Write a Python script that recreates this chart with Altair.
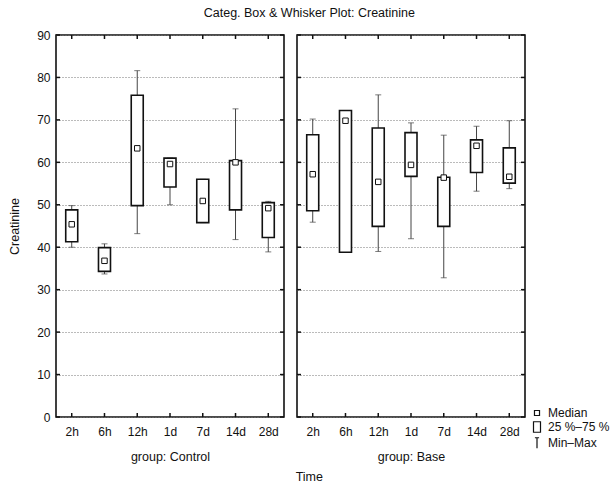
import altair as alt
import pandas as pd

times = ["2h", "6h", "12h", "1d", "7d", "14d", "28d"]

ctrl_min = [40.0, 33.7, 43.2, 50.0, 45.8, 41.8, 38.9]
ctrl_q1 = [41.3, 34.3, 49.8, 54.2, 45.8, 48.8, 42.3]
ctrl_med = [45.4, 36.8, 63.3, 59.6, 50.9, 60.0, 49.2]
ctrl_q3 = [48.8, 39.9, 75.8, 61.0, 56.0, 60.4, 50.5]
ctrl_max = [49.8, 40.8, 81.6, 61.0, 56.0, 72.6, 50.8]

base_min = [45.9, 38.8, 39.0, 42.0, 32.8, 53.2, 53.8]
base_q1 = [48.6, 38.8, 44.9, 56.7, 44.9, 57.6, 55.1]
base_med = [57.2, 69.8, 55.4, 59.4, 56.4, 63.9, 56.6]
base_q3 = [66.5, 72.2, 68.1, 67.0, 56.5, 65.3, 63.4]
base_max = [70.2, 72.2, 75.9, 69.3, 66.4, 68.5, 69.8]

y_ticks = [0, 10, 20, 30, 40, 50, 60, 70, 80, 90]
legend_labels = ["Median", "25 %\u201375 %", "Min\u2013Max"]
legend_shapes = [
    "M-0.36,-0.36H0.36V0.36H-0.36Z",
    "M-0.5,-0.75H0.5V0.75H-0.5Z",
    "M-0.3,-0.75H0.3M0,-0.75V0.75",
]

FONT = "Liberation Sans Narrow, Liberation Sans, Arial, sans-serif"
W, H = 228, 382


def panel(group, mins, q1s, meds, q3s, maxs, show_y, with_legend):
    df = pd.DataFrame({"time": times, "mn": mins, "q1": q1s, "md": meds, "q3": q3s, "mx": maxs})
    tick_df = pd.DataFrame({"v": y_ticks})
    xscale = alt.Scale(type="point", padding=0.48, domain=times)
    yscale = alt.Scale(domain=[0, 90], nice=False, zero=False)
    xaxis = alt.Axis(title=f"group: {group}", ticks=False, domain=False, labelAngle=0,
                     labelPadding=9, titlePadding=13, grid=False)
    yaxis = alt.Axis(values=y_ticks, grid=True, gridDash=[1, 2], gridColor="#777",
                     ticks=False, domain=False, labels=show_y,
                     title="Creatinine" if show_y else None, labelPadding=6, titlePadding=15)

    def X(f="time:N"):
        return alt.X(f, sort=times, scale=xscale, axis=xaxis)

    def Y(f):
        return alt.Y(f, scale=yscale, axis=yaxis)

    base = alt.Chart(df)
    whisk = base.mark_rule(color="#444", strokeWidth=1).encode(x=X(), y=Y("mn:Q"), y2="mx:Q")
    cap_lo = base.mark_tick(color="#444", size=6, thickness=1).encode(x=X(), y=Y("mn:Q"))
    cap_hi = base.mark_tick(color="#444", size=6, thickness=1).encode(x=X(), y=Y("mx:Q"))
    box = base.mark_bar(size=12, fill="white", stroke="#111", strokeWidth=1.6).encode(
        x=X(), y=Y("q1:Q"), y2="q3:Q")
    med = base.mark_point(shape="square", size=30, filled=True, fill="white", stroke="#111",
                          strokeWidth=1, opacity=1).encode(x=X(), y=Y("md:Q"))
    xt_top = base.mark_rule(color="#111", strokeWidth=1.5).encode(
        x=X(), y=alt.value(0), y2=alt.value(4))
    xt_bot = base.mark_rule(color="#111", strokeWidth=1.5).encode(
        x=X(), y=alt.value(H - 4), y2=alt.value(H))
    tb = alt.Chart(tick_df)
    yt_l = tb.mark_rule(color="#111", strokeWidth=1.5).encode(
        y=Y("v:Q"), x=alt.value(0), x2=alt.value(4))
    yt_r = tb.mark_rule(color="#111", strokeWidth=1.5).encode(
        y=Y("v:Q"), x=alt.value(W - 4), x2=alt.value(W))
    layers = [whisk, cap_lo, cap_hi, box, med, xt_top, xt_bot, yt_l, yt_r]
    if with_legend:
        ldf = pd.DataFrame({"lab": legend_labels})
        leg = alt.Chart(ldf).mark_point(opacity=0, filled=False, color="black").encode(
            x=alt.value(0), y=alt.value(0),
            shape=alt.Shape("lab:N", sort=legend_labels,
                            scale=alt.Scale(domain=legend_labels, range=legend_shapes),
                            legend=alt.Legend(title=None, orient="none", legendX=232, legendY=370,
                                              symbolSize=196, symbolStrokeColor="#111",
                                              symbolFillColor="white", symbolStrokeWidth=1.2,
                                              labelFont=FONT, labelFontSize=12, labelOffset=3,
                                              rowPadding=-1.5, padding=0)))
        layers.append(leg)
    return alt.layer(*layers).properties(width=W, height=H)


left = panel("Control", ctrl_min, ctrl_q1, ctrl_med, ctrl_q3, ctrl_max, True, False)
right = panel("Base", base_min, base_q1, base_med, base_q3, base_max, False, True)

hc = alt.hconcat(left, right, spacing=8).resolve_legend(shape="independent").properties(
    title=alt.TitleParams("Categ. Box & Whisker Plot: Creatinine", anchor="middle",
                          font=FONT, fontSize=12.5, fontWeight="normal", color="#111", offset=9))

chart = alt.vconcat(hc).properties(
    title=alt.TitleParams("Time", orient="bottom", anchor="middle", font=FONT, fontSize=12.5,
                          fontWeight="normal", color="#111", offset=8),
    padding={"left": 7, "top": 6, "right": 0, "bottom": 0},
    background="white",
).configure_view(stroke="#111", strokeWidth=1.6).configure_axis(
    labelFont=FONT, labelFontSize=12, labelColor="#111",
    titleFont=FONT, titleFontSize=12.5, titleFontWeight="normal", titleColor="#111",
).configure_legend(labelColor="#111")

chart.save("out.html", embed_options={"renderer": "svg", "actions": False})
